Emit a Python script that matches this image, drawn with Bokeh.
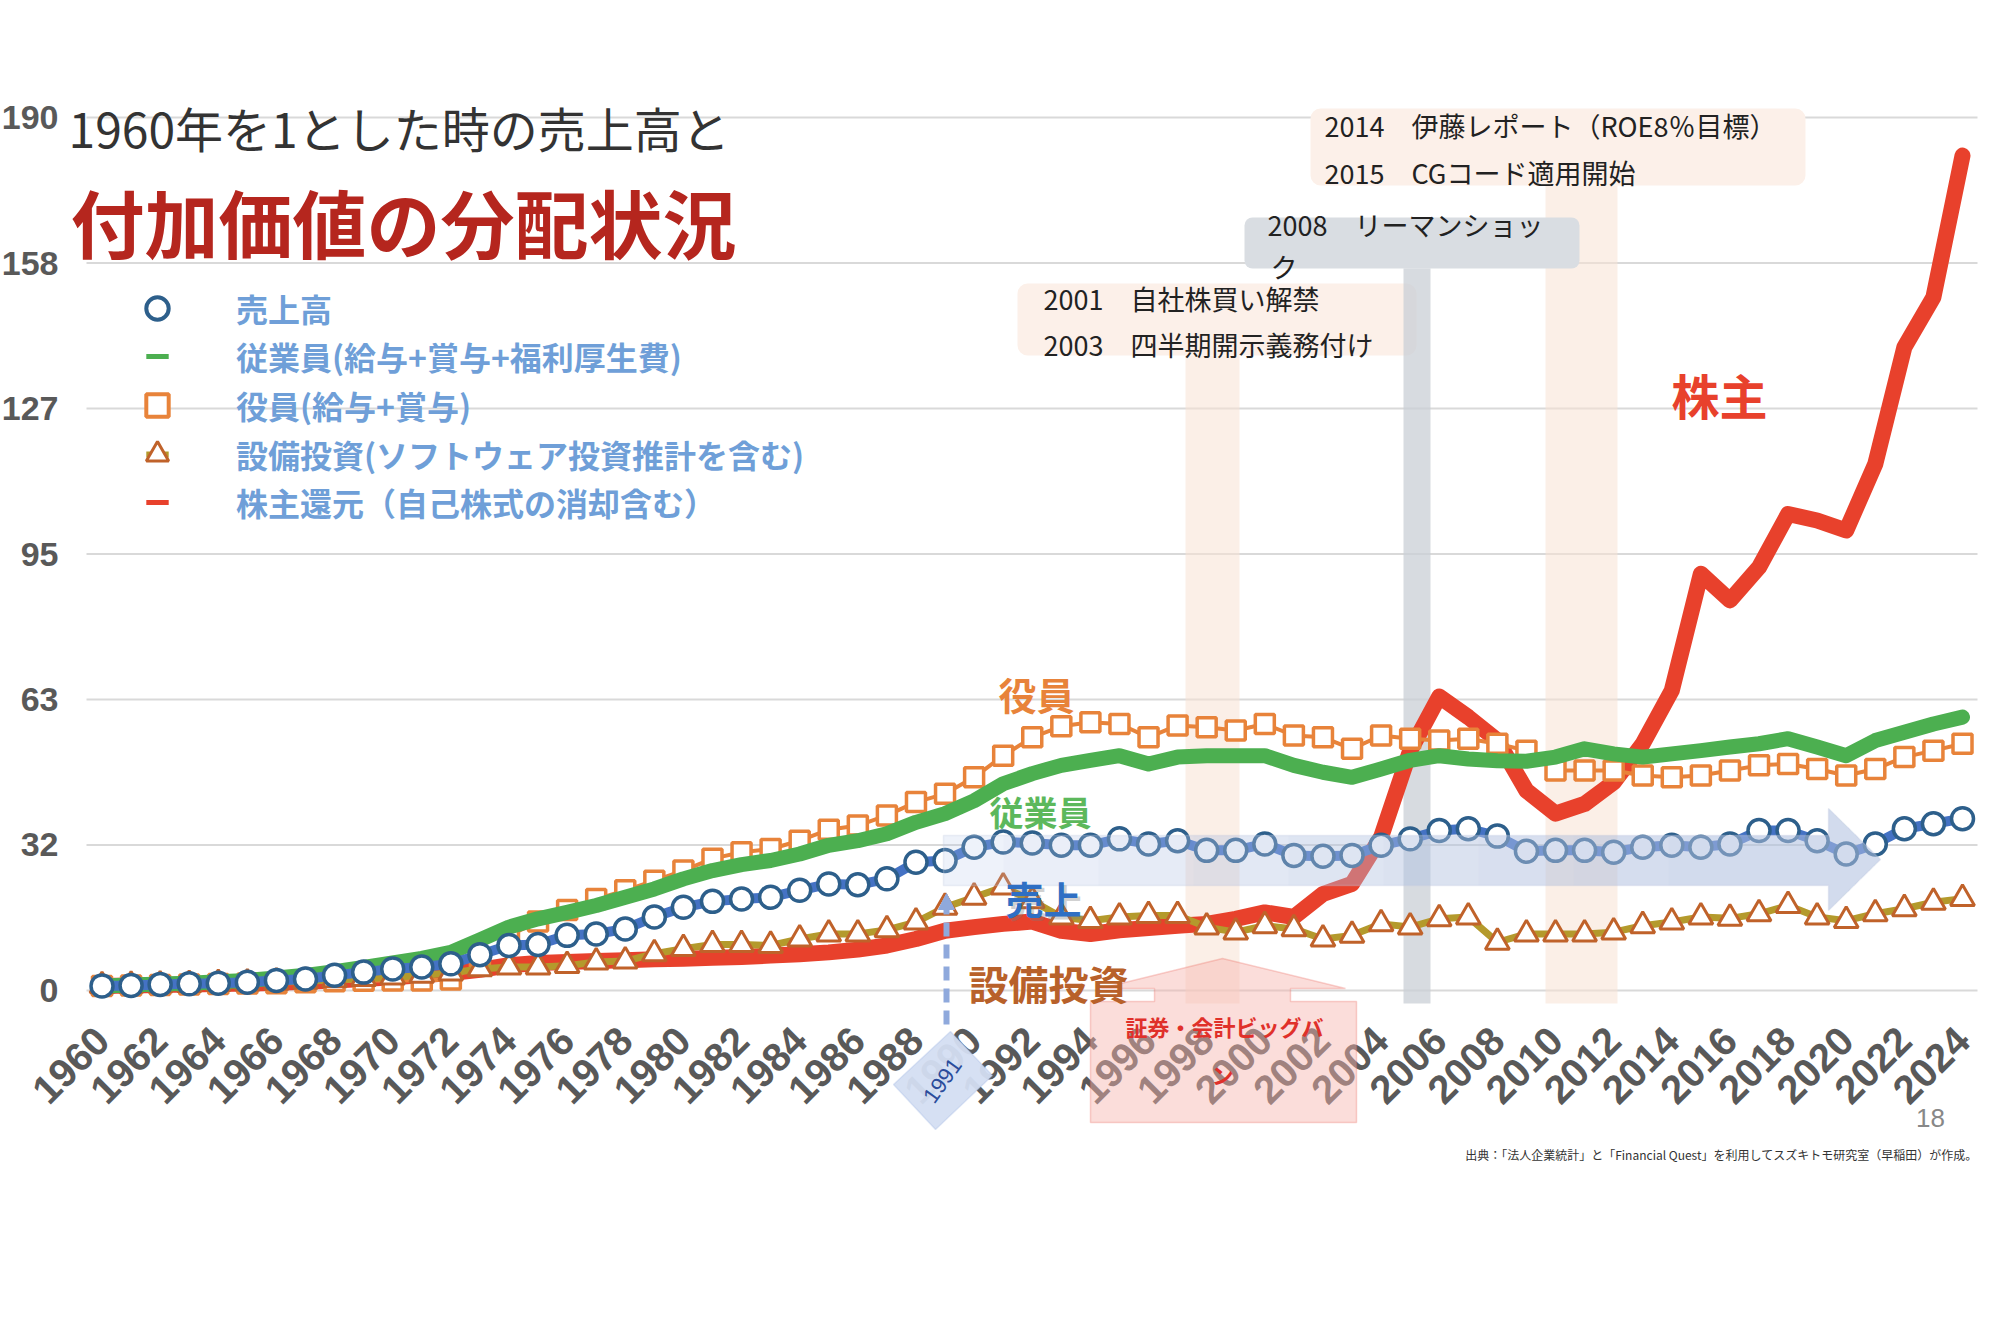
import math
from bokeh.plotting import figure
from bokeh.models import (FixedTicker, Label, BoxAnnotation, PolyAnnotation,
                          Legend, LegendItem, Arrow, NormalHead)
from bokeh.embed import file_html
from bokeh.resources import INLINE

# ---------------- data (1960 = 1) ----------------
YEARS = list(range(1960, 2025))
SALES = [1.0, 1.1, 1.3, 1.45, 1.6, 1.8, 2.2, 2.5, 3.3, 4.0,
         4.7, 5.1, 5.8, 7.8, 9.8, 10.0, 12.0, 12.3, 13.4, 16.0,
         18.1, 19.4, 19.9, 20.3, 21.8, 23.2, 23.0, 24.3, 27.9, 28.3,
         31.2, 32.3, 32.1, 31.6, 31.6, 33.0, 31.9, 32.6, 30.5, 30.5,
         31.9, 29.4, 29.2, 29.4, 31.6, 33.0, 34.8, 35.2, 33.6, 30.3,
         30.5, 30.5, 30.1, 31.2, 31.6, 31.2, 31.9, 34.8, 34.8, 32.6,
         29.7, 31.9, 35.2, 36.3, 37.4]
EMPLOYEES = [1.0, 1.2, 1.4, 1.6, 1.9, 2.2, 2.7, 3.3, 4.1, 5.0,
             6.0, 7.0, 8.3, 11.0, 13.8, 15.6, 17.0, 18.5, 20.3, 22.1,
             24.3, 26.1, 27.4, 28.3, 29.7, 31.6, 32.6, 34.1, 36.6, 38.5,
             41.3, 45.0, 47.2, 49.0, 50.1, 51.1, 49.3, 50.8, 51.1, 51.1,
             51.1, 49.0, 47.5, 46.4, 48.2, 50.1, 51.1, 50.4, 50.0, 49.9,
             50.8, 52.6, 51.5, 50.8, 51.5, 52.2, 53.0, 53.7, 54.8, 53.0,
             51.1, 54.4, 56.2, 58.0, 59.5]
EXECUTIVES = [1.0, 1.1, 1.2, 1.3, 1.4, 1.5, 1.6, 1.8, 2.0, 2.1,
              2.2, 2.2, 2.4, 6.0, 12.0, 15.0, 17.5, 19.9, 21.8, 23.9,
              26.1, 28.7, 30.1, 30.8, 32.6, 35.0, 35.9, 38.1, 41.0, 42.8,
              46.4, 51.1, 55.1, 57.5, 58.4, 58.0, 55.1, 57.7, 57.3, 56.6,
              58.0, 55.5, 55.1, 52.6, 55.5, 54.8, 54.4, 54.8, 53.7, 52.2,
              47.9, 47.9, 47.9, 46.8, 46.4, 46.8, 47.9, 49.0, 49.3, 48.2,
              46.8, 48.2, 50.8, 52.2, 53.7]
CAPEX = [1.0, 1.1, 1.2, 1.3, 1.5, 1.6, 1.8, 2.0, 2.3, 2.6,
         2.9, 3.3, 3.8, 4.7, 5.1, 5.1, 5.4, 6.2, 6.4, 8.0,
         9.1, 10.0, 10.0, 9.8, 11.2, 12.3, 12.3, 13.2, 14.9, 18.1,
         20.3, 22.5, 19.5, 16.0, 15.2, 16.0, 16.3, 16.3, 13.8, 12.7,
         14.1, 13.4, 11.2, 12.0, 14.5, 13.8, 15.6, 16.0, 10.5, 12.3,
         12.3, 12.3, 12.7, 14.1, 14.9, 16.0, 15.7, 16.7, 18.5, 16.0,
         15.2, 16.7, 17.8, 19.2, 20.0]
SHAREHOLDERS = [1.0, 1.1, 1.2, 1.3, 1.4, 1.5, 1.7, 1.9, 2.2, 2.5,
                2.9, 3.3, 3.8, 4.5, 5.5, 6.0, 6.2, 6.4, 6.6, 6.8,
                6.9, 7.1, 7.3, 7.6, 7.9, 8.3, 8.9, 9.8, 11.2, 13.0,
                13.8, 14.5, 15.0, 13.0, 12.3, 13.1, 13.6, 14.1, 14.5, 15.6,
                17.0, 16.0, 21.0, 23.2, 33.4, 52.2, 64.0, 59.5, 54.4, 43.5,
                38.5, 40.6, 45.3, 53.7, 65.3, 90.7, 84.9, 92.1, 103.7, 102.3,
                100.1, 114.6, 140.0, 150.9, 181.7]

X_TICKS = list(range(1960, 2025, 2))
Y_TICKS = [0, 31.67, 63.33, 95, 126.67, 158.33, 190]
Y_TICK_LABELS = ["0", "32", "63", "95", "127", "158", "190"]

LEGEND_LABELS = ["売上高", "従業員(給与+賞与+福利厚生費)", "役員(給与+賞与)",
                 "設備投資(ソフトウェア投資推計を含む)", "株主還元（自己株式の消却含む）"]
TITLE_1 = "1960年を1とした時の売上高と"
TITLE_2 = "付加価値の分配状況"
EVENTS_TOP = ["2014　伊藤レポート（ROE8％目標）", "2015　CGコード適用開始"]
EVENTS_LEHMAN = ["2008　リーマンショッ", "ク"]
EVENTS_MID = ["2001　自社株買い解禁", "2003　四半期開示義務付け"]
BIGBANG = ["証券・会計ビッグバ", "ン"]
MARK_1991 = "1991"
SOURCE = "出典：「法人企業統計」と「Financial Quest」を利用してスズキトモ研究室（早稲田）が作成。"
PAGE_NO = "18"

# ---------------- geometry (canvas px) ----------------
W, H = 2000, 1325
PLOT_L, PLOT_R, PLOT_B = 86, 1977, 1003      # visible plotting area edges
PX_1960, PX_2024 = 101.5, 1962.0
PX_Y0, PX_Y190 = 990.0, 117.0
SX = (PX_2024 - PX_1960) / (2024 - 1960)
SY = (PX_Y0 - PX_Y190) / 190.0
X_START = 1960 - PX_1960 / SX
X_END = 2024 + (W - PX_2024) / SX
Y_START = -(H - PX_Y0) / SY
Y_END = PX_Y0 / SY


def X(px):
    return X_START + px / SX


def Y(py):
    return Y_START + (H - py) / SY


JP = "Noto Sans CJK JP"
LAT = "Liberation Sans"

p = figure(width=W, height=H, x_range=(X_START, X_END), y_range=(Y_START, Y_END),
           output_backend="svg", toolbar_location=None, title=None,
           min_border=0, min_border_left=0, min_border_right=0,
           min_border_top=0, min_border_bottom=0, outline_line_color=None,
           background_fill_color="white", border_fill_color="white")

# axes drawn at fixed positions inside the canvas
p.xaxis.ticker = FixedTicker(ticks=X_TICKS)
p.xaxis.major_label_orientation = math.pi / 4
p.xaxis.fixed_location = Y(PLOT_B)
p.yaxis.ticker = FixedTicker(ticks=Y_TICKS)
p.yaxis.major_label_overrides = {t: l for t, l in zip(Y_TICKS, Y_TICK_LABELS)}
p.yaxis.fixed_location = X(PLOT_L)
for ax in (p.xaxis[0], p.yaxis[0]):
    ax.major_label_text_font = LAT
    ax.major_label_text_font_style = "bold"
    ax.major_label_text_color = "#595959"
    ax.axis_line_color = None
    ax.major_tick_line_color = None
    ax.minor_tick_line_color = None
p.xaxis.major_label_text_font_size = "40px"
p.yaxis.major_label_text_font_size = "34px"
p.xaxis.major_label_standoff = 24
p.yaxis.major_label_standoff = 22
p.xgrid.visible = False
p.ygrid.visible = False

# horizontal grid lines at the y ticks, limited to the plotting area
p.segment(x0=[X(PLOT_L)] * len(Y_TICKS), y0=Y_TICKS, x1=[X(PLOT_R)] * len(Y_TICKS),
          y1=Y_TICKS, line_color="#d9d9d9", line_width=2, level="underlay")

PEACH = "#fcf0e9"
GRAY = "#d9dde2"

# vertical bands and event boxes
p.add_layout(BoxAnnotation(left=X(1545), right=X(1617), top=Y(185), bottom=Y(PLOT_B),
                           fill_color="#f8e2d4", fill_alpha=0.55, line_color=None, level="underlay"))
p.add_layout(BoxAnnotation(left=X(1185), right=X(1239), top=Y(355), bottom=Y(PLOT_B),
                           fill_color="#f8e2d4", fill_alpha=0.55, line_color=None, level="underlay"))
p.add_layout(BoxAnnotation(left=X(1310), right=X(1805), top=Y(108), bottom=Y(185),
                           fill_color=PEACH, fill_alpha=1.0, line_color=None,
                           border_radius=10, level="underlay"))
p.add_layout(BoxAnnotation(left=X(1017), right=X(1416), top=Y(283), bottom=Y(355),
                           fill_color=PEACH, fill_alpha=1.0, line_color=None,
                           border_radius=10, level="underlay"))
p.add_layout(BoxAnnotation(left=X(1244), right=X(1579), top=Y(217), bottom=Y(268),
                           fill_color=GRAY, fill_alpha=1.0, line_color=None,
                           border_radius=8, level="underlay"))
p.add_layout(BoxAnnotation(left=X(1403), right=X(1430), top=Y(268), bottom=Y(PLOT_B),
                           fill_color="#c9cfd6", fill_alpha=0.75, line_color=None, level="underlay"))

# series
p.line(YEARS, SHAREHOLDERS, line_color="#e8412c", line_width=16,
       line_join="round", line_cap="round")
p.line(YEARS, EXECUTIVES, line_color="#e8833a", line_width=4)
p.scatter(YEARS, EXECUTIVES, marker="square", size=19, fill_color="white",
          line_color="#e8833a", line_width=3.5)
p.line(YEARS, CAPEX, line_color="#b49a2c", line_width=7)
p.scatter(YEARS, CAPEX, marker="triangle", size=24, fill_color="white",
          line_color="#c0622a", line_width=3)
p.line(YEARS, EMPLOYEES, line_color="#4caf50", line_width=15,
       line_join="round", line_cap="round")
p.line(YEARS, SALES, line_color="#4472c4", line_width=10, line_join="round")
p.scatter(YEARS, SALES, marker="circle", size=22, fill_color="white",
          line_color="#2d5f8b", line_width=3.5)

# legend (style-only marker renderers placed off canvas), one row per Legend
OFF_X, OFF_Y = [X_START - 50], [0]
lg_sales = p.scatter(OFF_X, OFF_Y, marker="circle", fill_color="white",
                     line_color="#2d5f8b", line_width=4)
lg_emp = p.scatter(OFF_X, OFF_Y, marker="dash", line_color="#4caf50", line_width=5)
lg_exec = p.scatter(OFF_X, OFF_Y, marker="square", fill_color="white",
                    line_color="#e8833a", line_width=4)
lg_capl = p.scatter(OFF_X, OFF_Y, marker="dash", line_color="#b49a2c", line_width=6)
lg_cap = p.scatter(OFF_X, OFF_Y, marker="triangle", fill_color="white",
                   line_color="#c0622a", line_width=3)
lg_sh = p.scatter(OFF_X, OFF_Y, marker="dash", line_color="#e8412c", line_width=5)
LEG_RENDERERS = [[lg_sales], [lg_emp], [lg_exec], [lg_capl, lg_cap], [lg_sh]]
ROW_CENTERS = [308, 356, 405, 454, 502]
ROW_H, GLYPH_W = 56, 58
LEG_GLYPH_CX, LEG_TEXT_X = 157, 236
for lab, rends, cy in zip(LEGEND_LABELS, LEG_RENDERERS, ROW_CENTERS):
    lg = Legend(items=[LegendItem(label=lab, renderers=rends)],
                location=(LEG_GLYPH_CX - GLYPH_W // 2, H - (cy + ROW_H // 2)),
                orientation="vertical",
                label_text_font=JP, label_text_font_size="32px",
                label_text_font_style="bold", label_text_color="#6f9fd8",
                glyph_width=GLYPH_W, glyph_height=ROW_H, label_height=ROW_H,
                label_standoff=int(LEG_TEXT_X - (LEG_GLYPH_CX + GLYPH_W // 2)),
                spacing=0, padding=0, margin=0,
                background_fill_alpha=0, border_line_color=None)
    p.add_layout(lg)

# translucent blue arrow over the sales line (from 1991 onward)
AX0, AHB, ATIP = 943, 1828, 1880
AT, AB, AHT, AHBOT, AMID = 835, 885, 808, 910, 859
starts = [AX0] + [AX0 + 60 + i * 95 for i in range(8)]
alphas = [0.22] + [0.065] * 8
for sx, a in zip(starts, alphas):
    xs = [sx, AHB, AHB, ATIP, AHB, AHB, sx]
    ys = [AT, AT, AHT, AMID, AHBOT, AB, AB]
    p.add_layout(PolyAnnotation(xs=[X(v) for v in xs], ys=[Y(v) for v in ys],
                                fill_color="#b0c3e8", fill_alpha=a, line_color=None))
xs = [AX0, AHB, AHB, ATIP, AHB, AHB, AX0]
ys = [AT, AT, AHT, AMID, AHBOT, AB, AB]
p.add_layout(PolyAnnotation(xs=[X(v) for v in xs], ys=[Y(v) for v in ys],
                            fill_alpha=0, line_color="#c3cde2", line_width=1.5))

# big-bang callout (up arrow), drawn over the axis labels
cx = [1090, 1090, 1154, 1154, 1100, 1222, 1345, 1290, 1290, 1356, 1356]
cy = [1122, 1001, 1001, 988, 988, 958, 988, 988, 1001, 1001, 1122]
p.add_layout(PolyAnnotation(xs=[X(v) for v in cx], ys=[Y(v) for v in cy],
                            fill_color="#f6b3ae", fill_alpha=0.45,
                            line_color="#ec6a60", line_width=1.5))
p.add_layout(Label(x=X(1224), y=Y(1025), text=BIGBANG[0], text_font=JP,
                   text_font_size="22px", text_font_style="bold", text_color="#e0302a",
                   text_align="center", text_baseline="middle"))
p.add_layout(Label(x=X(1222), y=Y(1073), text=BIGBANG[1], text_font=JP,
                   text_font_size="22px", text_font_style="bold", text_color="#e0302a",
                   text_align="center", text_baseline="middle"))

# 1991 dashed marker with diamond tag
p.add_layout(Arrow(x_start=X(946), y_start=Y(1024), x_end=X(946), y_end=Y(893),
                   line_color="#8fa9dc", line_width=6, line_dash="14 8",
                   end=NormalHead(size=16, fill_color="#8fa9dc", line_color="#8fa9dc")))
dx = [950, 992, 935, 893]
dy = [1031, 1075, 1129, 1084]
p.add_layout(PolyAnnotation(xs=[X(v) for v in dx], ys=[Y(v) for v in dy],
                            fill_color="#d4def2", fill_alpha=0.95,
                            line_color="#9db3e0", line_width=1.5))
p.add_layout(Label(x=X(942), y=Y(1080), text=MARK_1991, angle=0.95,
                   text_font=LAT, text_font_size="22px", text_color="#2b4c9b",
                   text_align="center", text_baseline="middle"))

# event texts
EV_STYLE = dict(text_font=JP, text_font_size="27px", text_color="#222222",
                text_align="left", text_baseline="middle")
p.add_layout(Label(x=X(1324), y=Y(125), text=EVENTS_TOP[0], **EV_STYLE))
p.add_layout(Label(x=X(1324), y=Y(172), text=EVENTS_TOP[1], **EV_STYLE))
p.add_layout(Label(x=X(1267), y=Y(224), text=EVENTS_LEHMAN[0], **EV_STYLE))
p.add_layout(Label(x=X(1270), y=Y(266), text=EVENTS_LEHMAN[1], **EV_STYLE))
p.add_layout(Label(x=X(1043), y=Y(298), text=EVENTS_MID[0], **EV_STYLE))
p.add_layout(Label(x=X(1043), y=Y(344), text=EVENTS_MID[1], **EV_STYLE))

# titles
p.add_layout(Label(x=X(68), y=Y(126), text=TITLE_1, text_font=JP, text_font_size="48px",
                   text_color="#333333", text_align="left", text_baseline="middle"))
p.add_layout(Label(x=X(70), y=Y(220), text=TITLE_2, text_font=JP, text_font_size="74px",
                   text_font_style="bold", text_color="#b5261e",
                   text_align="left", text_baseline="middle"))


# series name labels
def series_label(px, py, text, color, size, shadow=False):
    if shadow:
        p.add_layout(Label(x=X(px + 3), y=Y(py + 3), text=text, text_font=JP,
                           text_font_size=size, text_font_style="bold",
                           text_color="#7a7a7a", text_alpha=0.35,
                           text_align="center", text_baseline="middle"))
    p.add_layout(Label(x=X(px), y=Y(py), text=text, text_font=JP, text_font_size=size,
                       text_font_style="bold", text_color=color,
                       text_align="center", text_baseline="middle"))


series_label(1036, 693, "役員", "#e8833a", "38px")
series_label(1040, 811, "従業員", "#5cb85c", "34px")
series_label(1043, 897, "売上", "#2f6fc4", "38px", shadow=True)
series_label(1048, 982, "設備投資", "#b8612a", "40px")
series_label(1719, 393, "株主", "#e8412c", "48px")

# page number and source
p.add_layout(Label(x=X(1930), y=Y(1117), text=PAGE_NO, text_font=LAT, text_font_size="26px",
                   text_color="#888888", text_align="center", text_baseline="middle"))
p.add_layout(Label(x=X(1977), y=Y(1154), text=SOURCE, text_font=JP, text_font_size="12px",
                   text_color="#333333", text_align="right", text_baseline="middle"))

open("out.html", "w").write(file_html(p, INLINE))
